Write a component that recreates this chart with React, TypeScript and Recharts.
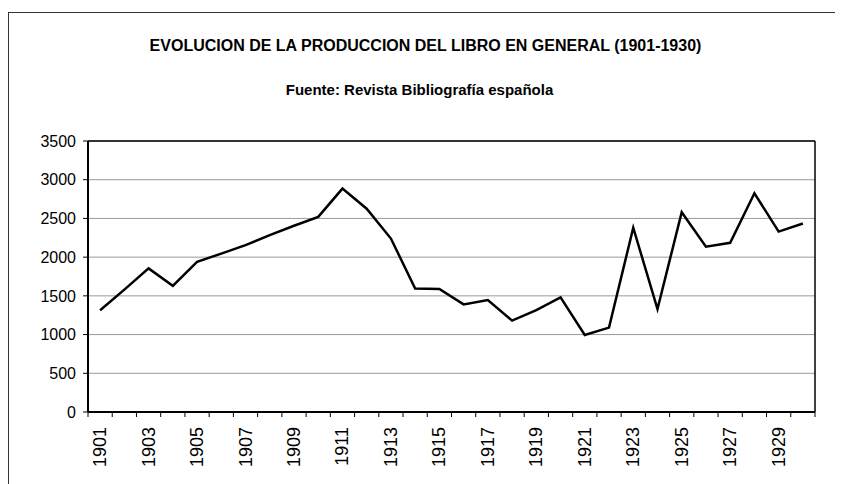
import React from "react";
import {
  LineChart,
  Line,
  XAxis,
  YAxis,
  CartesianGrid,
  ReferenceLine,
} from "recharts";

const years = [
  1901, 1902, 1903, 1904, 1905, 1906, 1907, 1908, 1909, 1910,
  1911, 1912, 1913, 1914, 1915, 1916, 1917, 1918, 1919, 1920,
  1921, 1922, 1923, 1924, 1925, 1926, 1927, 1928, 1929, 1930,
];
const books = [
  1315, 1580, 1855, 1630, 1940, 2045, 2155, 2285, 2405, 2520,
  2885, 2625, 2240, 1595, 1590, 1390, 1445, 1180, 1315, 1480,
  995, 1090, 2380, 1330, 2580, 2135, 2185, 2825, 2330, 2435,
];
const yTicks = [0, 500, 1000, 1500, 2000, 2500, 3000, 3500];
const labelYears = [1901, 1903, 1905, 1907, 1909, 1911, 1913, 1915, 1917, 1919, 1921, 1923, 1925, 1927, 1929];
// category boundaries, where Excel puts its tick marks
const boundaries = [...years.map((y) => y - 0.5), years[years.length - 1] + 0.5];

const data = years.map((year, i) => ({ year, books: books[i] }));

const FONT = "'Liberation Sans', Arial, sans-serif";

// tick sits on a category boundary; the label goes half a category to the right
function YearTick(props: any) {
  const { x, y, payload, width } = props;
  const year = payload.value + 0.5;
  if (!labelYears.includes(year)) return null;
  const half = (typeof width === "number" ? width : 727) / years.length / 2;
  const tx = x + half;
  return (
    <text
      x={tx}
      y={y}
      transform={`rotate(-90 ${tx} ${y})`}
      textAnchor="end"
      dominantBaseline="central"
      fontSize={18}
      fontFamily={FONT}
      fill="#000"
    >
      {year}
    </text>
  );
}

export default function App() {
  const domain: [number, number] = [boundaries[0], boundaries[boundaries.length - 1]];

  return (
    <div style={{ position: "relative", width: 835, height: 476, fontFamily: FONT }}>
      <div
        style={{
          position: "absolute",
          left: 0,
          top: 4,
          width: 832,
          height: 472,
          borderTop: "1.5px solid #333",
          borderLeft: "1.5px solid #333",
          borderRight: "1px solid #555",
          boxSizing: "border-box",
        }}
      />
      <div
        style={{
          position: "absolute",
          left: 0,
          width: 835,
          top: 29,
          textAlign: "center",
          fontWeight: "bold",
          fontSize: 16,
          lineHeight: "18px",
        }}
      >
        EVOLUCION DE LA PRODUCCION DEL LIBRO EN GENERAL (1901-1930)
      </div>
      <div
        style={{
          position: "absolute",
          left: -6,
          width: 835,
          top: 73,
          textAlign: "center",
          fontWeight: "bold",
          fontSize: 15,
          lineHeight: "18px",
        }}
      >
        Fuente: Revista Bibliografía española
      </div>

      <div style={{ position: "absolute", left: 0, top: 0 }}>
        <LineChart
          width={835}
          height={476}
          data={data}
          margin={{ top: 133, right: 28, left: 0, bottom: 11 }}
        >
          <CartesianGrid vertical={false} stroke="#9a9a9a" strokeWidth={1} />
          <XAxis
            dataKey="year"
            type="number"
            domain={domain}
            ticks={boundaries}
            interval={0}
            height={61}
            tickSize={5}
            tickMargin={10}
            tickLine={{ stroke: "#000" }}
            axisLine={{ stroke: "#000", strokeWidth: 2 }}
            tick={<YearTick />}
          />
          <YAxis
            domain={[0, 3500]}
            ticks={yTicks}
            width={80}
            tickSize={5}
            tickMargin={7}
            tickLine={{ stroke: "#000" }}
            axisLine={{ stroke: "#000", strokeWidth: 2 }}
            tick={{ fill: "#000", fontSize: 16, fontFamily: FONT }}
          />
          <ReferenceLine y={3500} stroke="#000" strokeWidth={1.5} />
          <ReferenceLine x={domain[1]} stroke="#000" strokeWidth={1.5} />
          <Line
            dataKey="books"
            stroke="#000"
            strokeWidth={2.5}
            dot={false}
            isAnimationActive={false}
          />
        </LineChart>
      </div>
    </div>
  );
}
